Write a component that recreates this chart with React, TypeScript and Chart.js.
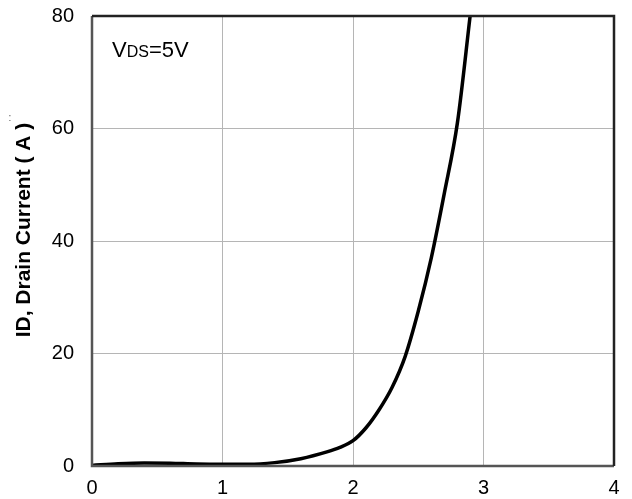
import React, { useEffect, useRef } from "react";
import { Chart, registerables } from "chart.js";

Chart.register(...registerables);

const gateVoltage = [0, 0.2, 0.4, 0.6, 0.8, 1.0, 1.2, 1.4, 1.6, 1.8, 1.9, 2.0, 2.1, 2.2, 2.3, 2.4, 2.5, 2.6, 2.7, 2.8, 2.9];
const drainCurrent = [0.1, 0.4, 0.55, 0.5, 0.35, 0.3, 0.3, 0.6, 1.3, 2.5, 3.3, 4.5, 6.8, 10.0, 14.0, 19.5, 27.5, 37, 48.5, 61, 80.5];
const xTicks = [0, 1, 2, 3, 4];
const yTicks = [0, 20, 40, 60, 80];
const yTitle = "ID, Drain Current ( A )";
const noteMain = "V";
const noteSub = "DS";
const noteRest = "=5V";

const FONT = "'Liberation Sans', Arial, sans-serif";

const framePlugin = {
  id: "frame",
  afterDraw(chart: any) {
    const { ctx, chartArea: a } = chart;
    ctx.save();
    ctx.lineWidth = 2.5;
    ctx.strokeStyle = "#555";
    ctx.beginPath();
    ctx.moveTo(a.left, a.top);
    ctx.lineTo(a.left, a.bottom);
    ctx.lineTo(a.right, a.bottom);
    ctx.stroke();
    ctx.strokeStyle = "#222";
    ctx.beginPath();
    ctx.moveTo(a.left, a.top);
    ctx.lineTo(a.right, a.top);
    ctx.lineTo(a.right, a.bottom);
    ctx.stroke();

    // annotation
    ctx.fillStyle = "#000";
    ctx.textBaseline = "alphabetic";
    ctx.textAlign = "left";
    let x = a.left + 20;
    const y = a.top + 41;
    ctx.font = `22px ${FONT}`;
    ctx.fillText(noteMain, x, y);
    x += ctx.measureText(noteMain).width;
    ctx.font = `16px ${FONT}`;
    ctx.fillText(noteSub, x, y);
    x += ctx.measureText(noteSub).width;
    ctx.font = `22px ${FONT}`;
    ctx.fillText(noteRest, x, y);

    // y title
    ctx.save();
    ctx.translate(24, 230);
    ctx.rotate(-Math.PI / 2);
    ctx.textAlign = "center";
    ctx.textBaseline = "middle";
    ctx.font = `bold 21px ${FONT}`;
    ctx.fillText(yTitle, 0, 0);
    ctx.restore();

    ctx.font = `10px ${FONT}`;
    ctx.fillStyle = "#555";
    ctx.textAlign = "center";
    ctx.fillText(":", 10, 121);
    ctx.restore();
  },
};

export default function App() {
  const ref = useRef<HTMLCanvasElement>(null);
  useEffect(() => {
    document.body.style.margin = "0";
    const chart = new Chart(ref.current!, {
      type: "line",
      data: {
        datasets: [
          {
            data: gateVoltage.map((v, i) => ({ x: v, y: drainCurrent[i] })),
            borderColor: "#000",
            borderWidth: 3.5,
            pointRadius: 0,
            cubicInterpolationMode: "monotone",
            fill: false,
          },
        ],
      },
      options: {
        animation: false,
        responsive: true,
        maintainAspectRatio: false,
        layout: { padding: { top: 16, right: 18, left: 0, bottom: 0 } },
        plugins: { legend: { display: false }, tooltip: { enabled: false } },
        scales: {
          x: {
            type: "linear",
            min: 0,
            max: 4,
            afterBuildTicks: (s: any) => {
              s.ticks = xTicks.map((v) => ({ value: v }));
            },
            afterFit: (s: any) => {
              s.height = 33;
              s.paddingLeft = 0;
              s.paddingRight = 0;
            },
            grid: { color: "#b5b5b5", lineWidth: 1, drawTicks: false },
            border: { display: false },
            ticks: { color: "#000", padding: 10, font: { family: FONT, size: 20 } },
          },
          y: {
            type: "linear",
            min: 0,
            max: 80,
            afterBuildTicks: (s: any) => {
              s.ticks = yTicks.map((v) => ({ value: v }));
            },
            afterFit: (s: any) => {
              s.width = 92;
              s.paddingTop = 0;
              s.paddingBottom = 0;
            },
            grid: { color: "#b5b5b5", lineWidth: 1, drawTicks: false },
            border: { display: false },
            ticks: { color: "#000", padding: 18, font: { family: FONT, size: 20 } },
          },
        },
      },
      plugins: [framePlugin],
    });
    return () => chart.destroy();
  }, []);
  return (
    <div style={{ width: 632, height: 499, position: "relative" }}>
      <canvas ref={ref} />
    </div>
  );
}
